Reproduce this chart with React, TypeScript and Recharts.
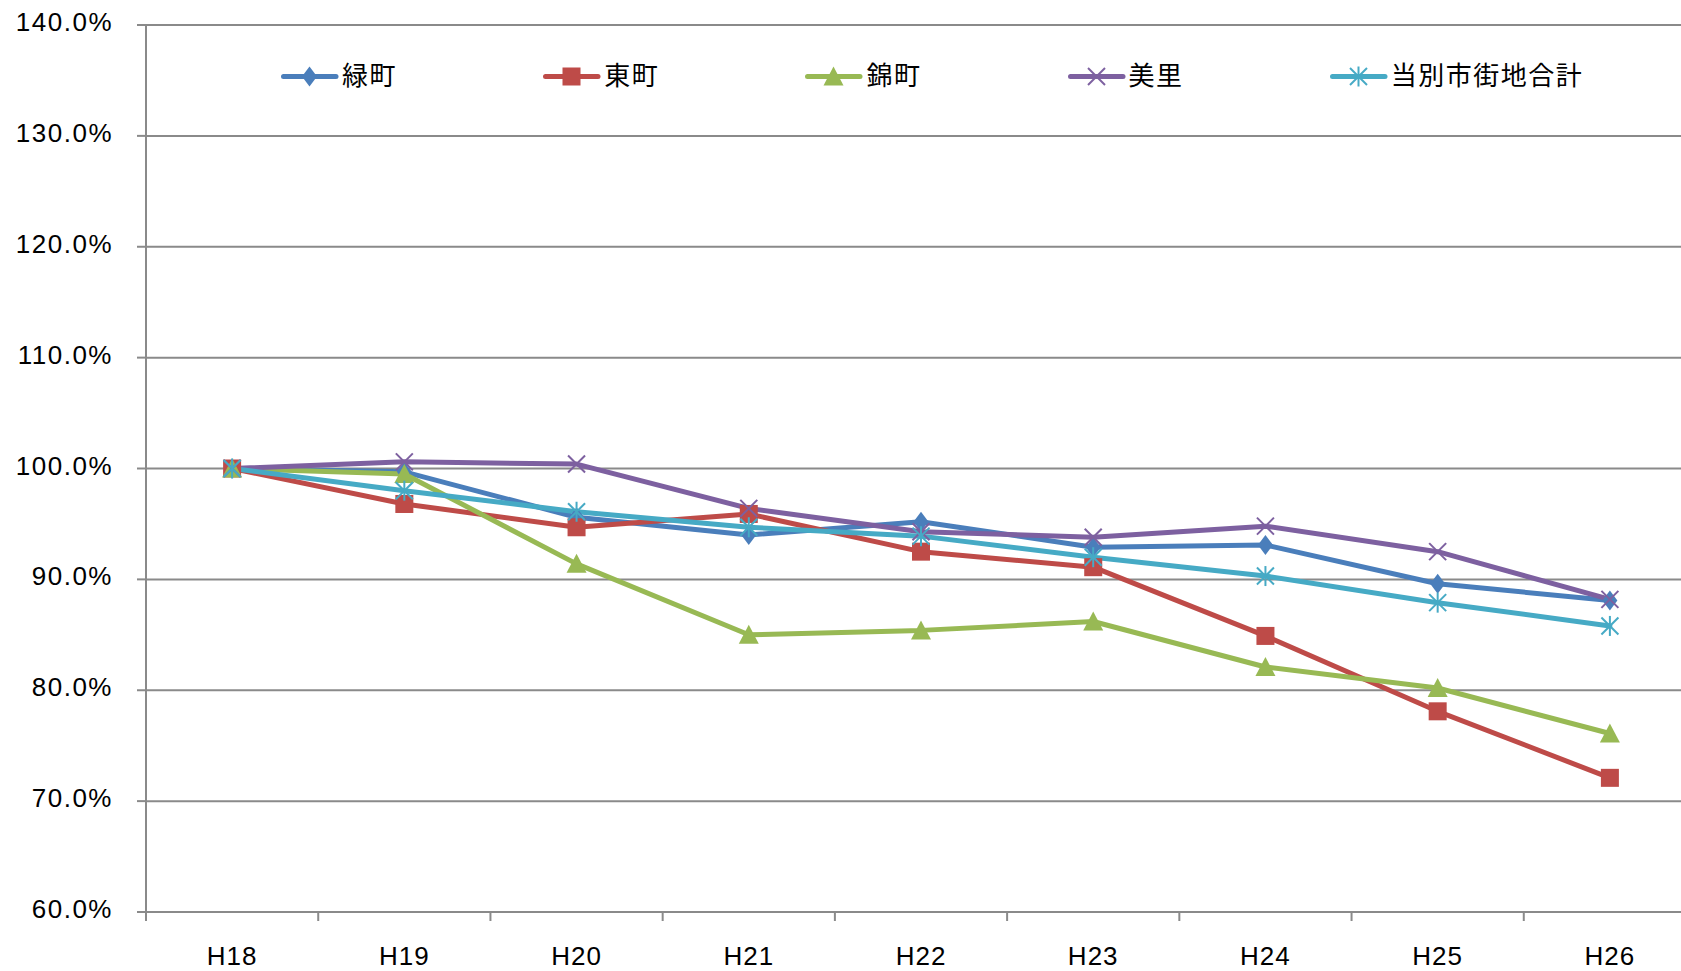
import React from 'react';
import { LineChart, Line, XAxis, YAxis, CartesianGrid } from 'recharts';

const categories = ['H18', 'H19', 'H20', 'H21', 'H22', 'H23', 'H24', 'H25', 'H26'];
const midori = [100, 99.7, 95.6, 94.0, 95.2, 92.9, 93.1, 89.6, 88.1];
const higashi = [100, 96.8, 94.7, 95.9, 92.5, 91.1, 84.9, 78.1, 72.1];
const nishiki = [100, 99.5, 91.4, 85.0, 85.4, 86.2, 82.1, 80.2, 76.1];
const misato = [100, 100.6, 100.4, 96.4, 94.3, 93.8, 94.8, 92.5, 88.2];
const total = [100, 98.0, 96.1, 94.7, 93.9, 92.0, 90.3, 87.9, 85.8];
const yTicks = [60, 70, 80, 90, 100, 110, 120, 130, 140];

const seriesNames = ['緑町', '東町', '錦町', '美里', '当別市街地合計'];
const seriesValues = [midori, higashi, nishiki, misato, total];
const seriesColors = ['#4A7EBB', '#BE4B48', '#98B954', '#7D60A0', '#46AAC5'];
const seriesShapes = ['diamond', 'square', 'triangle', 'x', 'star'];

const data = categories.map((c, i) => {
  const row: any = { cat: c };
  seriesNames.forEach((n, k) => {
    row[n] = seriesValues[k][i];
  });
  return row;
});

const CHART_W = 1700;
const CHART_H = 971;
const Y_AXIS_W = 146;
const MARGIN_R = 4;
const PLOT_W = CHART_W - Y_AXIS_W - MARGIN_R;
const BAND = PLOT_W / categories.length;
const AXIS_COLOR = '#8a8a8a';
const FONT = '"Liberation Sans", Arial, sans-serif';
const CJK = '"Noto Sans CJK JP", "Noto Sans CJK SC", sans-serif';

function Marker({ shape, color, cx, cy }: { shape: string; color: string; cx: number; cy: number }) {
  if (cx == null || cy == null) return null;
  if (shape === 'diamond') {
    return <polygon points={`${cx},${cy - 10} ${cx + 7.5},${cy} ${cx},${cy + 10} ${cx - 7.5},${cy}`} fill={color} />;
  }
  if (shape === 'square') {
    return <rect x={cx - 9} y={cy - 9} width={18} height={18} fill={color} />;
  }
  if (shape === 'triangle') {
    return <polygon points={`${cx},${cy - 10} ${cx + 10},${cy + 9} ${cx - 10},${cy + 9}`} fill={color} />;
  }
  if (shape === 'x') {
    const s = 8.5;
    return (
      <g stroke={color} strokeWidth={2}>
        <line x1={cx - s} y1={cy - s} x2={cx + s} y2={cy + s} />
        <line x1={cx - s} y1={cy + s} x2={cx + s} y2={cy - s} />
      </g>
    );
  }
  const s = 8.5;
  return (
    <g stroke={color} strokeWidth={2}>
      <line x1={cx - s} y1={cy - s} x2={cx + s} y2={cy + s} />
      <line x1={cx - s} y1={cy + s} x2={cx + s} y2={cy - s} />
      <line x1={cx} y1={cy - 10} x2={cx} y2={cy + 10} />
    </g>
  );
}

const XTick = (props: any) => {
  const { x, y, payload } = props;
  const half = BAND / 2;
  return (
    <g>
      <line x1={x - half} x2={x - half} y1={y} y2={y + 9} stroke={AXIS_COLOR} strokeWidth={2} />
      <text
        x={x}
        y={y + 44}
        textAnchor="middle"
        dominantBaseline="central"
        fontFamily={FONT}
        fontSize={26}
        letterSpacing={1}
        fill="#000"
      >
        {payload.value}
      </text>
    </g>
  );
};

const YTick = (props: any) => {
  const { x, y, payload } = props;
  return (
    <text
      x={x}
      y={y - 3}
      textAnchor="end"
      dominantBaseline="central"
      fontFamily={FONT}
      fontSize={26}
      letterSpacing={1.5}
      fill="#000"
    >
      {Number(payload.value).toFixed(1) + '%'}
    </text>
  );
};

function LegendOverlay() {
  return (
    <div
      style={{
        position: 'absolute',
        left: 281,
        top: 56,
        display: 'flex',
        height: 36,
        alignItems: 'center',
      }}
    >
      {seriesNames.map((n, k) => (
        <div key={n} style={{ width: 262.2, display: 'flex', alignItems: 'center' }}>
          <svg width={58} height={30} style={{ display: 'block' }}>
            <line x1={2.5} x2={55} y1={17.5} y2={17.5} stroke={seriesColors[k]} strokeWidth={5} strokeLinecap="round" />
            <Marker shape={seriesShapes[k]} color={seriesColors[k]} cx={28.5} cy={17.5} />
          </svg>
          <span
            style={{
              fontFamily: CJK,
              fontSize: 26,
              letterSpacing: 1.5,
              color: '#000',
              marginLeft: 3,
              lineHeight: '36px',
              whiteSpace: 'nowrap',
            }}
          >
            {n}
          </span>
        </div>
      ))}
    </div>
  );
}

export default function App() {
  return (
    <div
      style={{
        position: 'absolute',
        left: 0,
        top: 0,
        width: 1681,
        height: 971,
        overflow: 'hidden',
        background: '#fff',
      }}
    >
      <LineChart
        width={CHART_W}
        height={CHART_H}
        data={data}
        margin={{ top: 25, right: MARGIN_R, bottom: 0, left: 0 }}
      >
        <CartesianGrid vertical={false} stroke={AXIS_COLOR} strokeWidth={2} />
        <XAxis
          dataKey="cat"
          scale="band"
          height={59}
          axisLine={{ stroke: AXIS_COLOR, strokeWidth: 2 }}
          tickLine={false}
          tickSize={0}
          tickMargin={0}
          tick={<XTick />}
          interval={0}
        />
        <YAxis
          width={Y_AXIS_W}
          domain={[60, 140]}
          ticks={yTicks}
          interval={0}
          axisLine={{ stroke: AXIS_COLOR, strokeWidth: 2 }}
          tickLine={{ stroke: AXIS_COLOR, strokeWidth: 2 }}
          tickSize={9}
          tickMargin={24}
          tick={<YTick />}
        />
        {seriesNames.map((n, k) => (
          <Line
            key={n}
            type="linear"
            dataKey={n}
            stroke={seriesColors[k]}
            strokeWidth={5}
            strokeLinejoin="round"
            strokeLinecap="round"
            isAnimationActive={false}
            dot={(p: any) => (
              <Marker key={`${n}-${p.index}`} shape={seriesShapes[k]} color={seriesColors[k]} cx={p.cx} cy={p.cy} />
            )}
            activeDot={false}
          />
        ))}
      </LineChart>
      <LegendOverlay />
    </div>
  );
}
